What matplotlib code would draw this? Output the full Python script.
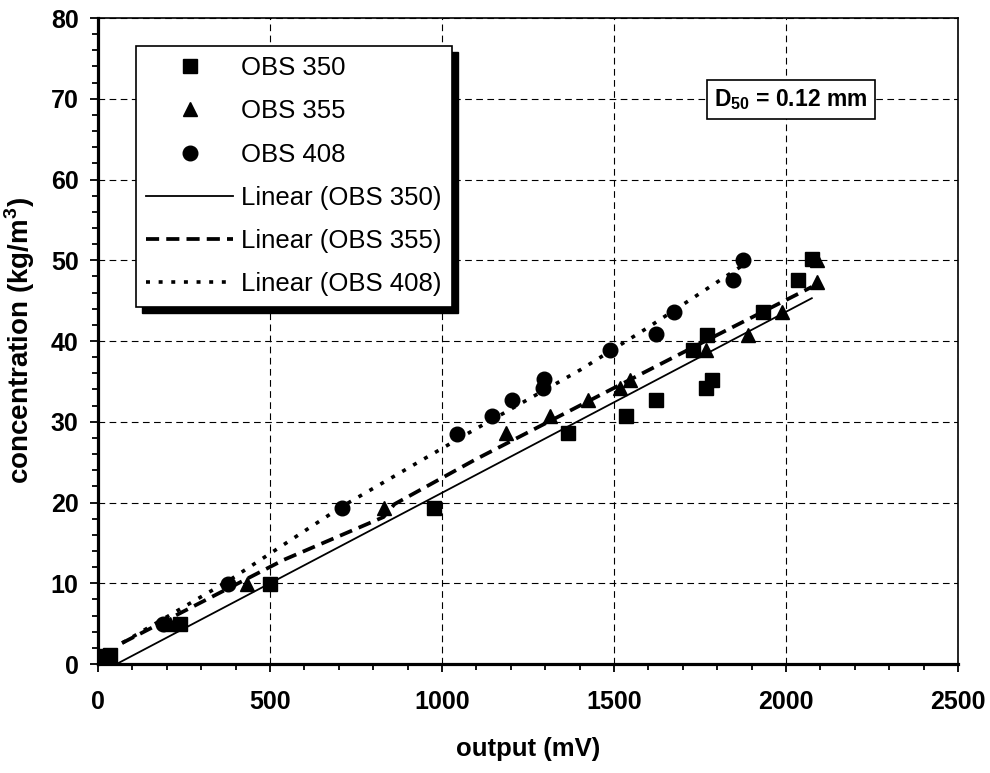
# OBS calibration: concentration vs sensor output

import matplotlib.pyplot as plt
from matplotlib.patches import Rectangle
from matplotlib.transforms import IdentityTransform
from matplotlib.ticker import MultipleLocator

plt.rcParams['font.family'] = ['Liberation Sans', 'DejaVu Sans']
plt.rcParams['mathtext.fontset'] = 'custom'
plt.rcParams['mathtext.rm'] = 'Liberation Sans:bold'
plt.rcParams['mathtext.bf'] = 'Liberation Sans:bold'

obs350_x = [22, 35, 238, 500, 977, 1366, 1535, 1622, 1730, 1770, 1767, 1785, 1933, 2035, 2075]
obs350_y = [1.0, 1.1, 5.0, 9.9, 19.3, 28.6, 30.7, 32.7, 38.9, 40.7, 34.2, 35.2, 43.6, 47.6, 50.2]

obs355_x = [20, 209, 434, 831, 1186, 1314, 1424, 1517, 1546, 1767, 1890, 1988, 2089, 2090]
obs355_y = [1.0, 5.0, 9.9, 19.3, 28.6, 30.7, 32.7, 34.2, 35.2, 38.9, 40.7, 43.6, 47.3, 50.0]

obs408_x = [15, 190, 379, 709, 1044, 1145, 1203, 1293, 1297, 1488, 1622, 1674, 1846, 1875]
obs408_y = [0.8, 5.0, 9.9, 19.3, 28.5, 30.7, 32.7, 34.2, 35.3, 38.9, 40.9, 43.6, 47.6, 50.0]

# trend lines (vertices as drawn)
fit350_x = [54, 2075]
fit350_y = [0.0, 45.3]
fit355_x = [70, 540, 830, 862, 1096, 1546, 1770, 2075]
fit355_y = [2.6, 12.9, 18.2, 19.8, 25.3, 35.2, 40.1, 46.7]
fit408_x = [70, 379, 709, 1081, 1401, 1596, 1875]
fit408_y = [2.6, 10.3, 19.5, 28.7, 36.4, 41.6, 49.4]

fig = plt.figure(figsize=(9.9, 7.73), dpi=100)
ax = fig.add_axes([0.099, 0.141, 0.8687, 0.8357])

ax.plot(obs350_x, obs350_y, 's', color='black', ms=9.5, label='OBS 350', zorder=3)
ax.plot(obs355_x, obs355_y, '^', color='black', ms=10.5, label='OBS 355', zorder=3)
ax.plot(obs408_x, obs408_y, 'o', color='black', ms=10.5, label='OBS 408', zorder=3)
ax.plot(fit350_x, fit350_y, '-', color='black', lw=1.3, label='Linear (OBS 350)')
ax.plot(fit355_x, fit355_y, color='black', lw=2.7, ls=(0, (3.5, 1.9)), label='Linear (OBS 355)')
ax.plot(fit408_x, fit408_y, color='black', lw=2.6, ls=(0, (1.1, 2.4)), label='Linear (OBS 408)')

ax.set_xlim(0, 2500)
ax.set_ylim(0, 80)
ax.xaxis.set_major_locator(MultipleLocator(500))
ax.xaxis.set_minor_locator(MultipleLocator(100))
ax.yaxis.set_major_locator(MultipleLocator(10))
ax.yaxis.set_minor_locator(MultipleLocator(2))
ax.tick_params(which='both', direction='out', width=1.3, colors='black')
ax.tick_params(which='major', length=6)
ax.tick_params(which='minor', length=4)
ax.tick_params(axis='x', which='major', pad=13, labelsize=18)
ax.tick_params(axis='y', which='major', pad=8, labelsize=18)
for lab in ax.get_xticklabels() + ax.get_yticklabels():
    lab.set_fontweight('bold')

ax.grid(True, which='major', color='black', lw=0.8, ls=(0, (6, 4)))

for s in ['left', 'bottom']:
    ax.spines[s].set_linewidth(2.3)
for s in ['top', 'right']:
    ax.spines[s].set_linewidth(1.2)

ax.set_xlabel('output (mV)', fontsize=18.5, fontweight='bold', labelpad=16)
ax.set_ylabel('concentration (kg/m$^{3}$)', fontsize=20, fontweight='bold', labelpad=10)

ax.text(0.895, 0.874, r'D$_{50}$ = 0.12 mm', transform=ax.transAxes,
        ha='right', va='center', fontsize=16.5, fontweight='bold',
        bbox=dict(boxstyle='square,pad=0.32', fc='white', ec='black', lw=1.2))

leg = ax.legend(loc='upper left', bbox_to_anchor=(0.044, 0.957), borderaxespad=0,
                fontsize=18.5, frameon=True, fancybox=False, framealpha=1,
                edgecolor='black', handlelength=3.4, handletextpad=0.3,
                labelspacing=0.75, borderpad=0.4)
leg.get_frame().set_linewidth(1.2)

# drop shadow behind the legend box
fig.canvas.draw()
bb = leg.get_window_extent()
ax.add_patch(Rectangle((bb.x0 + 6, bb.y0 - 6), bb.width, bb.height,
                       transform=IdentityTransform(), color='black',
                       zorder=4.9, clip_on=False))

fig.savefig('out.png', dpi=100)
